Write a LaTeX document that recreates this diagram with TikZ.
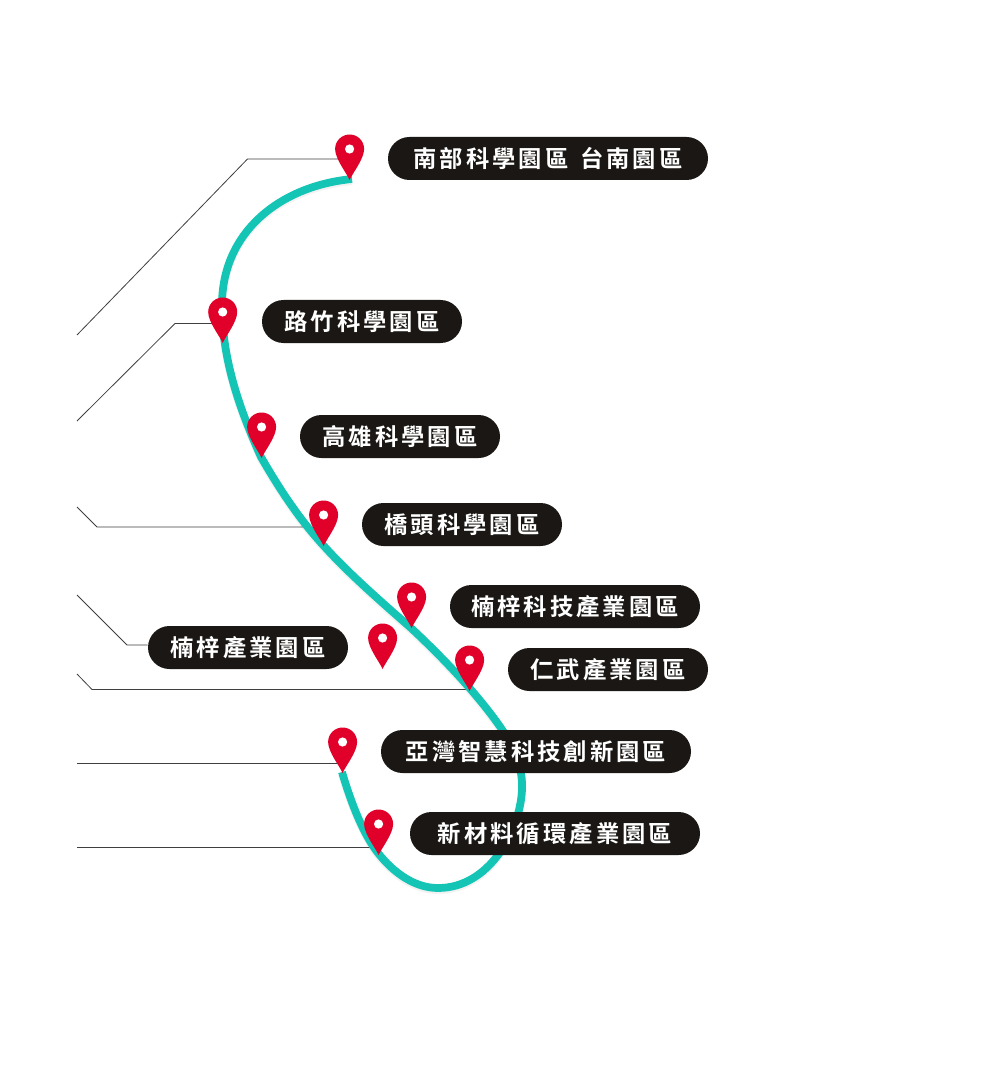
\documentclass[tikz,border=0pt]{standalone}
\usepackage{fontspec}
\setmainfont{Noto Sans CJK TC}[BoldFont={Noto Sans CJK TC Bold},LetterSpace=13]
\usetikzlibrary{shapes.misc}
\definecolor{pillc}{HTML}{1A1714}
\definecolor{pinc}{HTML}{E1002A}
\definecolor{curvec}{HTML}{14C4B4}
\definecolor{linec}{HTML}{3F3F3F}
\tikzset{
  pill/.style={rounded rectangle,fill=pillc,text=white,inner sep=0pt,minimum height=32.25pt,font=\fontsize{17.5pt}{19pt}\selectfont\bfseries},
  leader/.style={draw=linec,line width=0.6pt},
  route/.style={draw=curvec,line width=5.8pt},
  routeshadow/.style={draw=black,line width=6pt,opacity=0.05},
  pin/.pic={
    \fill[pinc] (0,0) .. controls (-3,-7) and (-14.5,-21) .. (-14.5,-31)
      arc[start angle=180,end angle=360,radius=14.5]
      .. controls (14.5,-21) and (3,-7) .. (0,0) -- cycle;
    \fill[white] (0,-31) circle[radius=4.6];
  }
}
\begin{document}
\begin{tikzpicture}[x=0.75pt,y=-0.75pt]
\useasboundingbox (0,0) rectangle (1000,1080);
\fill[white] (0,0) rectangle (1000,1080);
% pin tips
\coordinate (t1) at (349.6,180);
\coordinate (t2) at (222.7,343);
\coordinate (t3) at (261.6,458);
\coordinate (t4) at (323.6,546);
\coordinate (t5) at (411.6,628);
\coordinate (t6) at (382.6,669);
\coordinate (t7) at (469.6,691);
\coordinate (t8) at (342.6,773);
\coordinate (t9) at (378.6,855);
% free ends and bends of the leaders
\coordinate (a1) at (77,335); \coordinate (b1) at (247.5,159); \coordinate (e1) at (349,159);
\coordinate (a2) at (77,421); \coordinate (b2) at (175,323.5); \coordinate (e2) at (222,323.5);
\coordinate (a4) at (77,507); \coordinate (b4) at (97,527); \coordinate (e4) at (320,527);
\coordinate (a6) at (77,595); \coordinate (b6) at (127,645);
\coordinate (a7) at (77,674); \coordinate (b7) at (92,689.5); \coordinate (e7) at (469,689.5);
\coordinate (a8) at (77,763.5); \coordinate (e8) at (342,763.5);
\coordinate (a9) at (77,847.5); \coordinate (e9) at (378,847.5);
% label beside the leaders
\node[pill,minimum width=150pt] (n6) at (248,647.5) {楠梓產業園區};
% leaders
\draw[leader] (a1) -- (b1) -- (e1);
\draw[leader] (a2) -- (b2) -- (e2);
\draw[leader] (a4) -- (b4) -- (e4);
\draw[leader] (a6) -- (b6) -- (b6 -| n6.west);
\draw[leader] (a7) -- (b7) -- (e7);
\draw[leader] (a8) -- (e8);
\draw[leader] (a9) -- (e9);
% route
\def\routepath{(352,179) .. controls (280,186) and (222,232) .. (222,305)
  .. controls (222,360) and (240,410) .. (261,457)
  .. controls (280,490) and (300,520) .. (323,545)
  .. controls (350,575) and (385,605) .. (411,628)
  .. controls (440,655) and (476,692) .. (501,728)
  .. controls (516,750) and (523,770) .. (522,790)
  .. controls (520,830) and (490,888) .. (438,888)
  .. controls (414,888) and (393,872) .. (378,853)
  .. controls (364,835) and (352,806) .. (342,772)}
\begin{scope}[yshift=-1.5pt]
\path[routeshadow] \routepath;
\end{scope}
\path[route] \routepath;
% labels over the route
\node[pill,minimum width=240pt] (n1) at (549,158.5) [minimum width=240pt,xshift=-0.75pt] {南部科學園區\hspace{2.5pt} 台南園區};
\node[pill,minimum width=150pt] (n2) at (362,321.5) {路竹科學園區};
\node[pill,minimum width=150pt] (n3) at (400,436.5) {高雄科學園區};
\node[pill,minimum width=150pt] (n4) at (462,524.5) {橋頭科學園區};
\node[pill,minimum width=187.5pt] (n5) at (575,606.5) {楠梓科技產業園區};
\node[pill,minimum width=150pt] (n7) at (608,669.5) {仁武產業園區};
\node[pill,minimum width=232.5pt] (n8) at (536,751.5) {亞灣智慧科技創新園區};
\node[pill,minimum width=217.5pt] (n9) at (555,833.5) {新材料循環產業園區};
% pins
\foreach \i in {1,...,9} \pic at (t\i) {pin};
\end{tikzpicture}
\end{document}
